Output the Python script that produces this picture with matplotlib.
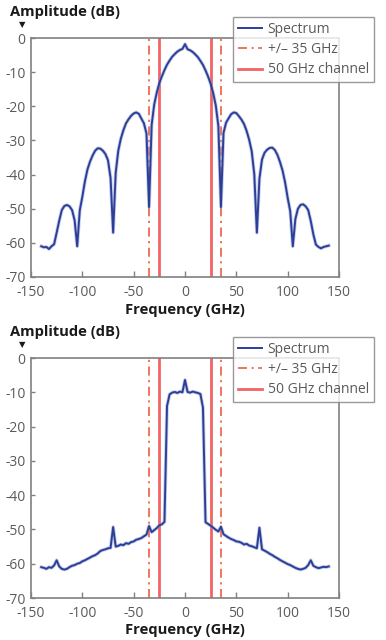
import numpy as np
import matplotlib
matplotlib.use("Agg")
import matplotlib.pyplot as plt

plt.rcParams['font.family'] = ['Open Sans', 'DejaVu Sans']

# ---------------- data ----------------
freq = np.arange(-140, 140.01, 2.5)  # GHz sampling grid

# top panel: NRZ-like sinc^2 spectrum (dB)
top_left = [-61.0, -61.3, -61.2, -61.8, -61.0, -60.4, -57.0, -53.5, -50.4, -49.2,
            -48.9, -49.3, -50.4, -53.4, -61.0, -50.5, -46.5, -42.0, -38.5, -36.2,
            -34.4, -33.0, -32.3, -32.4, -33.0, -34.0, -35.8, -41.0, -57.0, -39.5,
            -33.0, -29.5, -27.0, -25.0, -23.8, -22.8, -22.1, -21.8, -22.2, -23.6,
            -25.0, -28.0, -49.5, -25.5, -19.5, -16.0, -13.2, -11.2, -9.4, -7.8,
            -6.6, -5.5, -4.7, -4.0, -3.5, -3.2]
top_center = [-1.8]
top_right = [-3.3, -3.6, -4.1, -4.8, -5.6, -6.7, -7.9, -9.5, -11.3, -13.4,
             -16.2, -19.8, -25.8, -49.5, -27.8, -24.8, -23.5, -22.3, -21.8, -22.0,
             -22.9, -23.9, -25.2, -27.2, -29.8, -33.2, -40.0, -57.0, -41.2, -35.6,
             -33.6, -32.7, -32.2, -32.1, -32.8, -34.2, -36.3, -38.8, -42.3, -46.8,
             -50.8, -61.0, -53.0, -50.0, -48.9, -48.7, -49.3, -50.4, -53.6, -57.5,
             -60.5, -61.2, -61.6, -61.2, -61.0, -60.8]
top_values = top_left + top_center + top_right

# bottom panel: filtered (rectangular) spectrum (dB)
bot_left = [-61.0, -61.2, -61.5, -61.0, -61.2, -60.5, -59.0, -60.8, -61.5, -61.7,
            -61.5, -61.0, -60.6, -60.4, -60.0, -59.8, -59.3, -59.0, -58.6, -58.2,
            -57.8, -57.5, -57.0, -56.3, -56.0, -55.8, -55.5, -55.4, -49.3, -55.0,
            -54.8, -54.4, -54.6, -54.0, -54.2, -53.7, -53.5, -53.0, -52.8, -52.5,
            -52.0, -51.5, -49.0, -50.8, -50.2, -49.6, -48.8, -48.5, -47.8, -14.0,
            -10.6, -10.1, -9.9, -10.2, -9.8, -10.0]
bot_center = [-6.4]
bot_right = [-9.9, -10.1, -9.8, -10.0, -10.2, -10.5, -14.5, -47.9, -48.4, -48.9,
             -49.5, -50.1, -50.6, -49.2, -51.4, -51.9, -52.4, -52.8, -53.1, -53.5,
             -53.6, -53.9, -54.4, -54.2, -54.7, -54.9, -55.2, -55.5, -49.5, -55.8,
             -56.2, -56.6, -57.1, -57.5, -58.0, -58.4, -58.9, -59.3, -59.7, -60.1,
             -60.4, -60.8, -61.2, -61.5, -61.7, -61.5, -61.2, -60.4, -59.0, -60.6,
             -61.0, -61.3, -61.1, -60.9, -61.0, -60.8]
bot_values = bot_left + bot_center + bot_right

filter_35 = [-35, 35]
channel_50 = [-25, 25]

xticks = [-150, -100, -50, 0, 50, 100, 150]
yticks = [0, -10, -20, -30, -40, -50, -60, -70]
legend_labels = ["Spectrum", "+/\u2013 35 GHz", "50 GHz channel"]

# ---------------- styling ----------------
BLUE = '#2c3f98'
RED = '#f26464'
ORANGE = '#f2684e'
GRAY = '#808080'
TXT = '#5a5a5a'

W, H = 386, 640
fig = plt.figure(figsize=(W / 100, H / 100), dpi=100)
fig.patch.set_facecolor('white')


def panel(top_px, bottom_px, values, label_y_px, xlabel_y_px):
    left_px, right_px = 31, 339
    ax = fig.add_axes([left_px / W, 1 - bottom_px / H,
                       (right_px - left_px) / W, (bottom_px - top_px) / H])
    ax.plot(freq, values, color='#8c9ad0', lw=2.6, alpha=0.5, zorder=3,
            solid_joinstyle='round')
    l_spec, = ax.plot(freq, values, color=BLUE, lw=1.4, zorder=4,
                      solid_joinstyle='round')
    l_dd = None
    for f in filter_35:
        l_dd = ax.axvline(f, color=ORANGE, lw=1.3, ls=(0, (5, 2.5, 1.2, 2.5)),
                          zorder=2)
    l_ch = None
    for f in channel_50:
        l_ch = ax.axvline(f, color=RED, lw=2.0, zorder=2)
    ax.set_xlim(-150, 150)
    ax.set_ylim(-70, 0)
    ax.set_xticks(xticks)
    ax.set_yticks(yticks)
    ax.set_xticklabels([str(t) for t in xticks])
    ax.set_yticklabels([str(t) for t in yticks])
    ax.tick_params(axis='x', direction='in', length=4, width=1, color=GRAY,
                   labelsize=10, labelcolor=TXT, pad=6)
    ax.tick_params(axis='y', direction='in', length=3, width=1, color=GRAY,
                   labelsize=10, labelcolor=TXT, pad=4)
    for s in ax.spines.values():
        s.set_color(GRAY)
        s.set_linewidth(1.2)
    fig.text(185 / W, 1 - xlabel_y_px / H, "Frequency (GHz)", ha='center',
             va='center', fontsize=10.6, fontweight='bold', color='#1a1a1a')
    fig.text(10 / W, 1 - label_y_px / H, "Amplitude (dB)", ha='left',
             va='center', fontsize=10.6, fontweight='bold', color='#1a1a1a')
    fig.text(22 / W, 1 - (label_y_px + 13) / H, "\u25BC", ha='center',
             va='center', fontsize=6, color='#1a1a1a',
             family=['DejaVu Sans'])
    leg = ax.legend([l_spec, l_dd, l_ch], legend_labels,
                    loc='upper left',
                    bbox_to_anchor=(233 / W, 1 - (top_px - 21) / H),
                    bbox_transform=fig.transFigure,
                    borderaxespad=0, fontsize=10, frameon=True, fancybox=False,
                    handlelength=1.75, handletextpad=0.4, labelspacing=0.38,
                    borderpad=0.35, labelcolor=TXT)
    leg.get_frame().set_edgecolor(GRAY)
    leg.get_frame().set_linewidth(1.0)
    leg.set_zorder(10)
    return ax


panel(38, 277, top_values, 12, 310)
panel(358, 598, bot_values, 332, 630)

fig.savefig('out.png', dpi=100, facecolor='white')
